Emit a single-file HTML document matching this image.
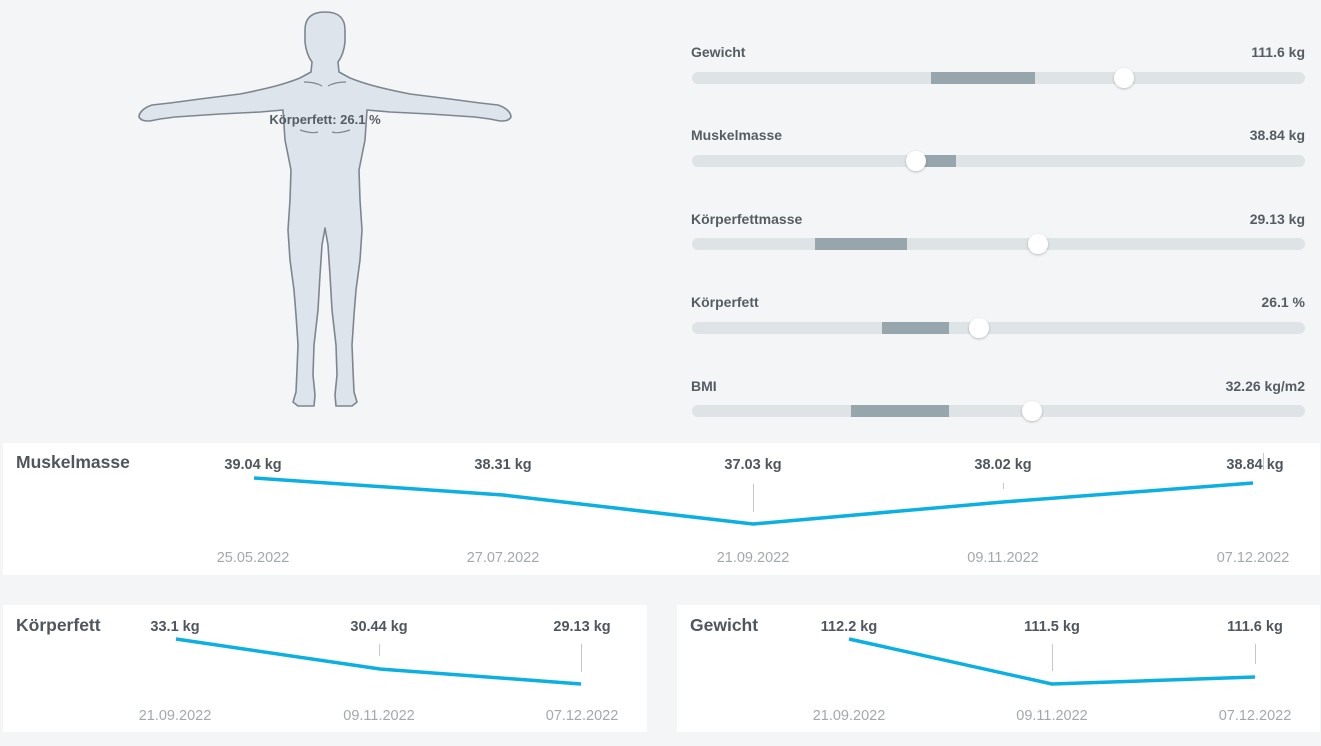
<!DOCTYPE html>
<html><head><meta charset="utf-8"><style>
html,body{margin:0;padding:0;background:#f3f5f7;}
body{width:1321px;height:741px;overflow:hidden;font-family:"Liberation Sans",sans-serif;}
</style></head><body>
<svg width="1321" height="741" viewBox="0 0 1321 741" xmlns="http://www.w3.org/2000/svg" font-family="Liberation Sans, sans-serif">
<rect width="1321" height="741" fill="#f3f5f7"/>
<defs><filter id="sh" x="-50%" y="-50%" width="200%" height="200%"><feDropShadow dx="0" dy="1" stdDeviation="1.2" flood-color="#000" flood-opacity="0.25"/></filter></defs>
<path fill="#dde4ec" stroke="#7d868f" stroke-width="1.6" stroke-linejoin="round" d="M325,12 C314,12 305,16 305,30 L305,42 C306,52 309,58 312,62 L311,72 L300,78 C285,84 270,88 240,94 L200,99 L170,103 L152,105 C143,108 139,113 139,117 C141,121 146,121 150,121 L160,119 L175,117 L220,114 L260,112 L283,110 L285,140 L291,170 L290,200 L288,230 L290,260 L294,290 L296,315 L298,345 L297,370 L296,392 L293,402 L298,406 L314,406 L315,395 L313,375 L314,345 L318,310 L320,275 L322,245 L325,228 L328,245 L330,275 L332,310 L336,345 L337,375 L335,395 L336,406 L352,406 L357,402 L354,392 L353,370 L352,345 L354,315 L356,290 L360,260 L362,230 L360,200 L359,170 L365,140 L367,110 L390,112 L430,114 L475,117 L490,119 L500,121 C504,121 509,121 511,117 C511,113 507,108 498,105 L480,103 L450,99 L410,94 C380,88 365,84 350,78 L339,72 L338,62 C341,58 344,52 345,42 L345,30 C345,16 336,12 325,12 Z"/>
<path d="M304,82 Q315,82 322,86 M346,82 Q335,82 328,86 M300,130 Q312,134 318,132 M350,130 Q338,134 332,132" fill="none" stroke="#7d868f" stroke-width="1.2"/>
<text x="325" y="124" text-anchor="middle" font-size="13" font-weight="bold" fill="#555d64">Körperfett: 26.1 %</text>

<g font-size="14" font-weight="bold" fill="#555d64">
<text x="691" y="57">Gewicht</text><text x="1305" y="57" text-anchor="end">111.6 kg</text>
<text x="691" y="140">Muskelmasse</text><text x="1305" y="140" text-anchor="end">38.84 kg</text>
<text x="691" y="224">Körperfettmasse</text><text x="1305" y="224" text-anchor="end">29.13 kg</text>
<text x="691" y="307">Körperfett</text><text x="1305" y="307" text-anchor="end">26.1 %</text>
<text x="691" y="391">BMI</text><text x="1305" y="391" text-anchor="end">32.26 kg/m2</text>
</g>
<g>
<rect x="692" y="72" width="613" height="12" rx="6" fill="#dee4e6"/><rect x="931" y="72" width="104" height="12" fill="#97a5ad"/><circle cx="1124" cy="78" r="10" fill="#fff" filter="url(#sh)"/>
<rect x="692" y="155" width="613" height="12" rx="6" fill="#dee4e6"/><rect x="916" y="155" width="40" height="12" fill="#97a5ad"/><circle cx="916" cy="161" r="10" fill="#fff" filter="url(#sh)"/>
<rect x="692" y="238" width="613" height="12" rx="6" fill="#dee4e6"/><rect x="815" y="238" width="92" height="12" fill="#97a5ad"/><circle cx="1038" cy="244" r="10" fill="#fff" filter="url(#sh)"/>
<rect x="692" y="322" width="613" height="12" rx="6" fill="#dee4e6"/><rect x="882" y="322" width="67" height="12" fill="#97a5ad"/><circle cx="979" cy="328" r="10" fill="#fff" filter="url(#sh)"/>
<rect x="692" y="405" width="613" height="12" rx="6" fill="#dee4e6"/><rect x="851" y="405" width="98" height="12" fill="#97a5ad"/><circle cx="1032" cy="411" r="10" fill="#fff" filter="url(#sh)"/>
</g>

<rect x="3" y="443" width="1317" height="132" fill="#fff"/>
<text x="16" y="468" font-size="17.5" font-weight="bold" fill="#4f565d">Muskelmasse</text>
<g stroke="#c4c8cc" stroke-width="1"><line x1="753.5" y1="484" x2="753.5" y2="512"/><line x1="1003.5" y1="483" x2="1003.5" y2="489"/><line x1="1263.5" y1="453" x2="1263.5" y2="470"/></g>
<polyline points="254,478 503,495 753,524 1003,502 1253,483" fill="none" stroke="#0cb0e0" stroke-width="3.5" stroke-linejoin="round"/>
<g font-size="14.5" font-weight="bold" fill="#4f565d" text-anchor="middle">
<text x="253" y="469">39.04 kg</text><text x="503" y="469">38.31 kg</text><text x="753" y="469">37.03 kg</text><text x="1003" y="469">38.02 kg</text><text x="1255" y="469">38.84 kg</text></g>
<g font-size="14.5" fill="#a3a8ad" text-anchor="middle">
<text x="253" y="562">25.05.2022</text><text x="503" y="562">27.07.2022</text><text x="753" y="562">21.09.2022</text><text x="1003" y="562">09.11.2022</text><text x="1253" y="562">07.12.2022</text></g>

<rect x="3" y="605" width="644" height="127" fill="#fff"/>
<text x="16" y="631" font-size="17.5" font-weight="bold" fill="#4f565d">Körperfett</text>
<g stroke="#c4c8cc"><line x1="379.5" y1="644" x2="379.5" y2="656"/><line x1="581.5" y1="644" x2="581.5" y2="672"/></g>
<polyline points="176,639 380,669 581,684" fill="none" stroke="#0cb0e0" stroke-width="3.5" stroke-linejoin="round"/>
<g font-size="14.5" font-weight="bold" fill="#4f565d" text-anchor="middle"><text x="175" y="631">33.1 kg</text><text x="379" y="631">30.44 kg</text><text x="582" y="631">29.13 kg</text></g>
<g font-size="14.5" fill="#a3a8ad" text-anchor="middle"><text x="175" y="720">21.09.2022</text><text x="379" y="720">09.11.2022</text><text x="582" y="720">07.12.2022</text></g>

<rect x="677" y="605" width="643" height="127" fill="#fff"/>
<text x="690" y="631" font-size="17.5" font-weight="bold" fill="#4f565d">Gewicht</text>
<g stroke="#c4c8cc"><line x1="1052.5" y1="644" x2="1052.5" y2="671"/><line x1="1255.5" y1="644" x2="1255.5" y2="664"/></g>
<polyline points="849,639 1052,684 1255,677" fill="none" stroke="#0cb0e0" stroke-width="3.5" stroke-linejoin="round"/>
<g font-size="14.5" font-weight="bold" fill="#4f565d" text-anchor="middle"><text x="849" y="631">112.2 kg</text><text x="1052" y="631">111.5 kg</text><text x="1255" y="631">111.6 kg</text></g>
<g font-size="14.5" fill="#a3a8ad" text-anchor="middle"><text x="849" y="720">21.09.2022</text><text x="1052" y="720">09.11.2022</text><text x="1255" y="720">07.12.2022</text></g>
</svg>
</body></html>
